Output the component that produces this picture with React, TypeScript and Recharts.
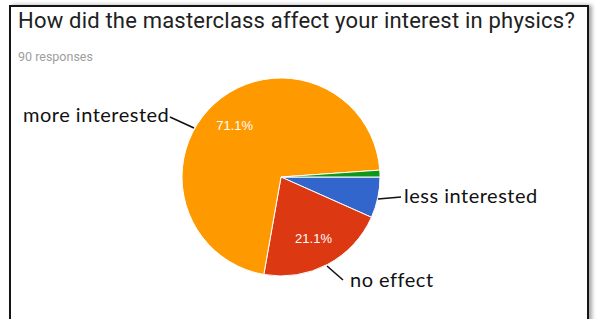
import { PieChart, Pie, Cell } from 'recharts';

// Survey answers (90 responses), clockwise from 3 o'clock
const categories = ['less interested', 'no effect', 'more interested', 'other'];
const responses = [6, 19, 64, 1];
const sliceColors = ['#3366cc', '#dc3912', '#ff9900', '#109618'];

const TITLE = 'How did the masterclass affect your interest in physics?';
const SUBTITLE = '90 responses';

const rows = categories.map((name, i) => ({ name, value: responses[i] }));

const RAD = Math.PI / 180;

// percentage text inside the big slices only (like Google Forms)
const renderPct = (p: any) => {
  const { cx, cy, midAngle, outerRadius, percent } = p;
  if (percent < 0.1) return null;
  const r = outerRadius * 0.7;
  const x = cx + r * Math.cos(-midAngle * RAD);
  const y = cy + r * Math.sin(-midAngle * RAD);
  return (
    <text
      x={x}
      y={y}
      fill="#ffffff"
      textAnchor="middle"
      dominantBaseline="central"
      style={{ fontFamily: '"Liberation Sans", Arial, sans-serif', fontSize: 13 }}
    >
      {`${(percent * 100).toFixed(1)}%`}
    </text>
  );
};

const noteFont = { fontFamily: 'Lato, "Open Sans", sans-serif', fontSize: 20, letterSpacing: 0.5, fill: '#111' };

export default function App() {
  return (
    <div style={{ position: 'fixed', left: 0, top: 0, width: 596, height: 319, overflow: 'hidden', background: '#fff' }}>
      {/* framed card */}
      <div
        style={{
          position: 'absolute',
          left: 9,
          top: 5,
          width: 576,
          height: 340,
          border: '2px solid #151515',
          boxShadow: '3px 0 4px rgba(0,0,0,0.35)',
          background: '#fff',
        }}
      />
      <div
        style={{
          position: 'absolute',
          left: 18,
          top: 8,
          fontFamily: 'Roboto, sans-serif',
          fontSize: 22,
          letterSpacing: 0.2,
          color: '#212121',
          whiteSpace: 'nowrap',
        }}
      >
        {TITLE}
      </div>
      <div
        style={{
          position: 'absolute',
          left: 18,
          top: 49,
          fontFamily: 'Roboto, sans-serif',
          fontSize: 12.5,
          color: '#9e9e9e',
        }}
      >
        {SUBTITLE}
      </div>
      <div style={{ position: 'absolute', left: 0, top: 0 }}>
        <PieChart width={596} height={319} margin={{ top: 0, right: 0, bottom: 0, left: 0 }}>
          <Pie
            data={rows}
            dataKey="value"
            nameKey="name"
            cx={281}
            cy={177}
            outerRadius={99}
            startAngle={0}
            endAngle={-360}
            stroke="#ffffff"
            strokeWidth={1}
            label={renderPct}
            labelLine={false}
            isAnimationActive={false}
          >
            {rows.map((r, i) => (
              <Cell key={r.name} fill={sliceColors[i]} />
            ))}
          </Pie>
        </PieChart>
      </div>
      {/* hand-drawn call-outs */}
      <svg width={596} height={319} style={{ position: 'absolute', left: 0, top: 0, pointerEvents: 'none' }}>
        <line x1={170} y1={117} x2={194} y2={128} stroke="#111" strokeWidth={1.6} />
        <text x={23} y={122} style={noteFont}>{categories[2]}</text>
        <line x1={378} y1={199} x2={401} y2={197} stroke="#111" strokeWidth={1.6} />
        <text x={404} y={203} style={noteFont}>{categories[0]}</text>
        <line x1={327} y1={266} x2={343} y2={280} stroke="#111" strokeWidth={1.6} />
        <text x={350} y={287} style={noteFont}>{categories[1]}</text>
      </svg>
    </div>
  );
}
